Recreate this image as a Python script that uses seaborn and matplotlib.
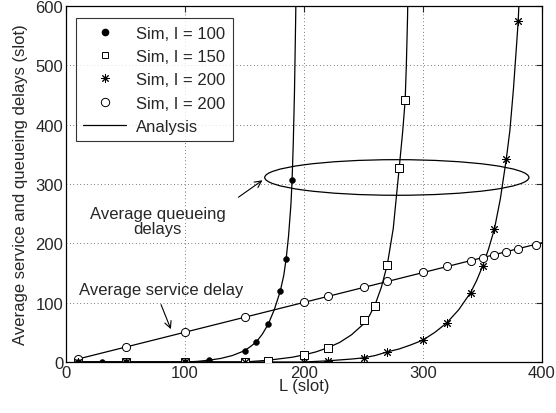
import numpy as np
import pandas as pd
import matplotlib
matplotlib.use("Agg")
import matplotlib.pyplot as plt
from matplotlib.lines import Line2D
from matplotlib.patches import Ellipse
import seaborn as sns

# ---- simulation data ----
sim100_x = [10, 30, 50, 100, 120, 150, 160, 170, 180, 185, 190]
sim100_y = [0, 0, 0, 0, 3, 19, 34, 64, 119, 174, 307]

sim150_x = [10, 50, 100, 150, 170, 200, 220, 250, 260, 270, 280, 285]
sim150_y = [0, 0, 0, 0, 2, 12, 24, 70, 95, 164, 327, 441]

sim200_x = [10, 50, 100, 150, 200, 220, 250, 270, 300, 320, 340, 350, 360, 370, 380]
sim200_y = [0, 0, 0, 0, 0, 2, 7, 17, 37, 66, 117, 161, 224, 342, 575]

simsvc_x = [10, 50, 100, 150, 200, 220, 250, 270, 300, 320, 340, 350, 360, 370, 380, 395]
simsvc_y = [5, 25, 51, 76, 101, 111, 126, 136, 151, 161, 171, 176, 181, 186, 191, 198]

# ---- analysis curves ----
ana100_x = [10, 100, 110, 120, 130, 140, 150, 155, 160, 165, 170, 175, 180, 183, 185, 187, 189, 190, 191, 192, 193, 194]
ana100_y = [0, 0, 1, 3, 6, 11, 19, 26, 34, 47, 64, 88, 119, 146, 174, 212, 265, 307, 370, 455, 580, 720]

ana150_x = [10, 150, 170, 190, 200, 210, 220, 230, 240, 250, 255, 260, 265, 270, 275, 280, 283, 285, 286, 287, 288]
ana150_y = [0, 0, 3, 8, 12, 17, 24, 33, 46, 64, 78, 98, 126, 164, 225, 327, 390, 441, 500, 580, 700]

ana200_x = [10, 200, 220, 240, 250, 260, 270, 280, 290, 300, 310, 320, 330, 340, 345, 350, 355, 360, 365, 370, 373, 376, 379, 380, 381, 382]
ana200_y = [0, 0, 2, 5, 7, 11, 17, 22, 29, 37, 50, 66, 88, 117, 137, 161, 190, 224, 275, 342, 390, 460, 545, 575, 620, 700]

anasvc_x = [10, 400]
anasvc_y = [5, 201]

x_ticks = [0, 100, 200, 300, 400]
y_ticks = [0, 100, 200, 300, 400, 500, 600]
legend_labels = ["Sim, I = 100", "Sim, I = 150", "Sim, I = 200", "Sim, I = 200", "Analysis"]

sns.set_style("white")
plt.rcParams['font.family'] = ['Liberation Sans', 'DejaVu Sans']
plt.rcParams['font.size'] = 12

fig = plt.figure(figsize=(5.56, 4.14), dpi=100)
ax = fig.add_axes([66/556, (414-363)/414, 476/556, 356/414])

# analysis lines
for xs, ys in [(ana100_x, ana100_y), (ana150_x, ana150_y), (ana200_x, ana200_y), (anasvc_x, anasvc_y)]:
    df = pd.DataFrame({"x": xs, "y": ys})
    sns.lineplot(data=df, x="x", y="y", ax=ax, color="black", linewidth=0.9,
                 estimator=None, sort=False, zorder=2)

# simulation markers
star = (8, 2, 0)
sns.scatterplot(x=sim150_x, y=sim150_y, ax=ax, marker="s", s=26, facecolor="white",
                edgecolor="black", linewidth=0.7, zorder=3)
sns.scatterplot(x=sim200_x, y=sim200_y, ax=ax, marker=star, s=32, color="black",
                linewidth=0.7, zorder=4)
sns.scatterplot(x=sim100_x, y=sim100_y, ax=ax, marker="o", s=18, color="black",
                edgecolor="black", zorder=5)
sns.scatterplot(x=simsvc_x, y=simsvc_y, ax=ax, marker="o", s=34, facecolor="white",
                edgecolor="black", linewidth=0.7, zorder=3)

ax.set_xlim(0, 400)
ax.set_ylim(0, 600)
ax.set_xticks(x_ticks)
ax.set_yticks(y_ticks)
ax.grid(True, linestyle=(0, (1, 4)), color="black", linewidth=0.5)
ax.set_axisbelow(True)
ax.tick_params(direction="in", length=4, top=True, right=True, labelsize=12, pad=2)
for sp in ax.spines.values():
    sp.set_linewidth(0.9)
    sp.set_color("black")
ax.set_xlabel("L (slot)", fontsize=12, labelpad=-1)
ax.set_ylabel("Average service and queueing delays (slot)", fontsize=12, labelpad=5)

# ellipse and annotations
ax.add_patch(Ellipse((278, 311), 222, 60, fill=False, edgecolor="black", linewidth=0.9, zorder=6))
ax.annotate("", xy=(167, 309), xytext=(143, 275),
            arrowprops=dict(arrowstyle="->", color="black", lw=0.8))
ax.text(77, 238, "Average queueing\ndelays", ha="center", va="center", fontsize=12,
        linespacing=1.0)
ax.annotate("", xy=(89, 51), xytext=(79, 101),
            arrowprops=dict(arrowstyle="->", color="black", lw=0.8))
ax.text(80, 123, "Average service delay", ha="center", va="center", fontsize=12)

handles = [
    Line2D([], [], linestyle="none", marker="o", markersize=4.5, color="black"),
    Line2D([], [], linestyle="none", marker="s", markersize=5, markerfacecolor="white",
           markeredgecolor="black", markeredgewidth=0.7),
    Line2D([], [], linestyle="none", marker=star, markersize=6, color="black", markeredgewidth=0.7),
    Line2D([], [], linestyle="none", marker="o", markersize=6, markerfacecolor="white",
           markeredgecolor="black", markeredgewidth=0.7),
    Line2D([], [], color="black", linewidth=0.9),
]
leg = ax.legend(handles, legend_labels, loc="upper left", bbox_to_anchor=(0.02, 0.966),
                fontsize=12, frameon=True, fancybox=False, edgecolor="black",
                handlelength=2.6, handletextpad=0.6, labelspacing=0.5, borderpad=0.45,
                borderaxespad=0.0)
leg.get_frame().set_linewidth(0.8)
leg.set_zorder(10)

fig.savefig("out.png", dpi=100)
